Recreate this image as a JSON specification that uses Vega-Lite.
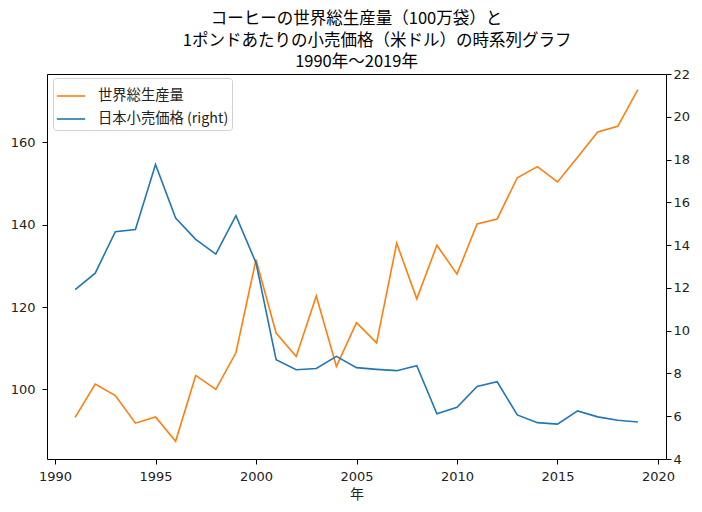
{
  "$schema": "https://vega.github.io/schema/vega-lite/v6.json",
  "autosize": {"type": "none"},
  "padding": {"left": 47, "top": 74, "right": 36, "bottom": 53},
  "width": 619,
  "height": 385,
  "background": "white",
  "title": {
    "text": ["コーヒーの世界総生産量（100万袋）と", "\u200B\u3000\u3000\u20021ポンドあたりの小売価格（米ドル）の時系列グラフ", "1990年～2019年"],
    "font": "Noto Sans CJK JP",
    "fontSize": 16.5,
    "fontWeight": "normal",
    "lineHeight": 21.5,
    "color": "#000000",
    "anchor": "middle",
    "offset": -2.5
  },
  "config": {
    "view": {"stroke": "#000000", "strokeWidth": 1},
    "axis": {
      "labelFont": "DejaVu Sans",
      "labelFontSize": 13,
      "labelColor": "#222222",
      "titleFont": "Noto Sans CJK JP",
      "titleFontSize": 14,
      "titleFontWeight": "normal",
      "titleColor": "#222222",
      "tickColor": "#000000",
      "tickSize": 5,
      "domain": false,
      "grid": false
    },
    "legend": {
      "labelFont": "Noto Sans CJK JP",
      "labelFontSize": 14.3,
      "labelColor": "#222222"
    }
  },
  "data": {
    "values": [
      {"year": 1991, "series": "世界総生産量", "value": 93.2},
      {"year": 1992, "series": "世界総生産量", "value": 101.3},
      {"year": 1993, "series": "世界総生産量", "value": 98.5},
      {"year": 1994, "series": "世界総生産量", "value": 91.8},
      {"year": 1995, "series": "世界総生産量", "value": 93.3},
      {"year": 1996, "series": "世界総生産量", "value": 87.4},
      {"year": 1997, "series": "世界総生産量", "value": 103.4},
      {"year": 1998, "series": "世界総生産量", "value": 100.0},
      {"year": 1999, "series": "世界総生産量", "value": 108.9},
      {"year": 2000, "series": "世界総生産量", "value": 131.5},
      {"year": 2001, "series": "世界総生産量", "value": 113.7},
      {"year": 2002, "series": "世界総生産量", "value": 108.0},
      {"year": 2003, "series": "世界総生産量", "value": 122.7},
      {"year": 2004, "series": "世界総生産量", "value": 105.6},
      {"year": 2005, "series": "世界総生産量", "value": 116.2},
      {"year": 2006, "series": "世界総生産量", "value": 111.3},
      {"year": 2007, "series": "世界総生産量", "value": 135.5},
      {"year": 2008, "series": "世界総生産量", "value": 122.0},
      {"year": 2009, "series": "世界総生産量", "value": 135.0},
      {"year": 2010, "series": "世界総生産量", "value": 128.0},
      {"year": 2011, "series": "世界総生産量", "value": 140.2},
      {"year": 2012, "series": "世界総生産量", "value": 141.4},
      {"year": 2013, "series": "世界総生産量", "value": 151.4},
      {"year": 2014, "series": "世界総生産量", "value": 154.1},
      {"year": 2015, "series": "世界総生産量", "value": 150.4},
      {"year": 2016, "series": "世界総生産量", "value": 156.4},
      {"year": 2017, "series": "世界総生産量", "value": 162.5},
      {"year": 2018, "series": "世界総生産量", "value": 163.9},
      {"year": 2019, "series": "世界総生産量", "value": 172.8},
      {"year": 1991, "series": "日本小売価格 (right)", "value": 11.92},
      {"year": 1992, "series": "日本小売価格 (right)", "value": 12.69},
      {"year": 1993, "series": "日本小売価格 (right)", "value": 14.63},
      {"year": 1994, "series": "日本小売価格 (right)", "value": 14.73},
      {"year": 1995, "series": "日本小売価格 (right)", "value": 17.77},
      {"year": 1996, "series": "日本小売価格 (right)", "value": 15.27},
      {"year": 1997, "series": "日本小売価格 (right)", "value": 14.27},
      {"year": 1998, "series": "日本小売価格 (right)", "value": 13.58},
      {"year": 1999, "series": "日本小売価格 (right)", "value": 15.38},
      {"year": 2000, "series": "日本小売価格 (right)", "value": 13.17},
      {"year": 2001, "series": "日本小売価格 (right)", "value": 8.64},
      {"year": 2002, "series": "日本小売価格 (right)", "value": 8.17},
      {"year": 2003, "series": "日本小売価格 (right)", "value": 8.23},
      {"year": 2004, "series": "日本小売価格 (right)", "value": 8.8},
      {"year": 2005, "series": "日本小売価格 (right)", "value": 8.27},
      {"year": 2006, "series": "日本小売価格 (right)", "value": 8.19},
      {"year": 2007, "series": "日本小売価格 (right)", "value": 8.13},
      {"year": 2008, "series": "日本小売価格 (right)", "value": 8.36},
      {"year": 2009, "series": "日本小売価格 (right)", "value": 6.11},
      {"year": 2010, "series": "日本小売価格 (right)", "value": 6.42},
      {"year": 2011, "series": "日本小売価格 (right)", "value": 7.39},
      {"year": 2012, "series": "日本小売価格 (right)", "value": 7.61},
      {"year": 2013, "series": "日本小売価格 (right)", "value": 6.06},
      {"year": 2014, "series": "日本小売価格 (right)", "value": 5.7},
      {"year": 2015, "series": "日本小売価格 (right)", "value": 5.63},
      {"year": 2016, "series": "日本小売価格 (right)", "value": 6.25},
      {"year": 2017, "series": "日本小売価格 (right)", "value": 5.97},
      {"year": 2018, "series": "日本小売価格 (right)", "value": 5.81},
      {"year": 2019, "series": "日本小売価格 (right)", "value": 5.73}
    ]
  },
  "encoding": {
    "x": {
      "field": "year",
      "type": "quantitative",
      "title": "年",
      "scale": {"domain": [1989.6, 2020.4], "nice": false, "zero": false},
      "axis": {"values": [1990, 1995, 2000, 2005, 2010, 2015, 2020], "format": "d", "titlePadding": 4, "labelPadding": 6}
    },
    "color": {
      "field": "series",
      "type": "nominal",
      "title": null,
      "scale": {"domain": ["世界総生産量", "日本小売価格 (right)"], "range": ["#ff7f0e", "#1f77b4"]},
      "legend": {
        "orient": "none",
        "legendX": 6,
        "legendY": 4,
        "padding": 3,
        "strokeColor": "#d0d0d0",
        "fillColor": "#ffffff",
        "cornerRadius": 3,
        "symbolType": "stroke",
        "symbolSize": 800,
        "symbolStrokeWidth": 1.6,
        "rowPadding": -2,
        "labelOffset": 12
      }
    }
  },
  "layer": [
    {
      "transform": [{"filter": "datum.series === '世界総生産量'"}],
      "mark": {"type": "line", "strokeWidth": 1.6},
      "encoding": {
        "y": {
          "field": "value",
          "type": "quantitative",
          "title": null,
          "scale": {"domain": [83.1, 176.6], "nice": false, "zero": false},
          "axis": {"orient": "left", "values": [100, 120, 140, 160], "labelPadding": 7}
        }
      }
    },
    {
      "transform": [{"filter": "datum.series === '日本小売価格 (right)'"}],
      "mark": {"type": "line", "strokeWidth": 1.6},
      "encoding": {
        "y": {
          "field": "value",
          "type": "quantitative",
          "title": null,
          "scale": {"domain": [4, 22], "nice": false, "zero": false},
          "axis": {"orient": "right", "values": [4, 6, 8, 10, 12, 14, 16, 18, 20, 22], "labelPadding": 2}
        }
      }
    }
  ],
  "resolve": {"scale": {"y": "independent"}}
}
